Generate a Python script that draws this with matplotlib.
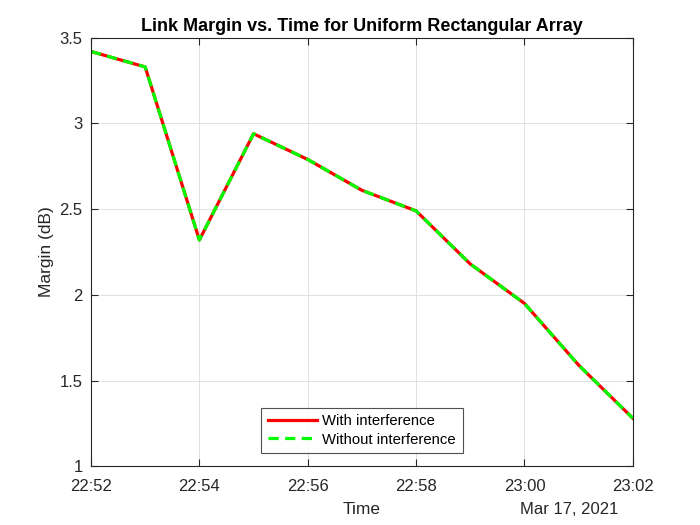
import numpy as np
import matplotlib
matplotlib.use('Agg')
import matplotlib.pyplot as plt

# datos
tiempos = ['22:52', '22:53', '22:54', '22:55', '22:56', '22:57',
           '22:58', '22:59', '23:00', '23:01', '23:02']
margen_con = [3.42, 3.33, 2.32, 2.94, 2.79, 2.61, 2.49, 2.18, 1.95, 1.59, 1.28]
margen_sin = [3.42, 3.33, 2.32, 2.94, 2.79, 2.61, 2.49, 2.18, 1.95, 1.59, 1.28]
etiquetas_x = ['22:52', '22:54', '22:56', '22:58', '23:00', '23:02']

plt.rcParams['font.family'] = ['Liberation Sans', 'DejaVu Sans']

x = np.arange(len(tiempos))

fig = plt.figure(figsize=(7, 5.25), dpi=100)
ax = fig.add_axes([0.13, 0.112, 0.774, 0.816])

ax.plot(x, margen_con, color='#ff0000', lw=2.3, label='With interference')
ax.plot(x, margen_sin, color='#00ff00', lw=2.3, ls=(0, (3.2, 2.0)), label='Without interference')

ax.set_xlim(0, len(tiempos) - 1)
ax.set_ylim(1, 3.5)
ax.set_xticks(x[::2])
ax.set_xticklabels(etiquetas_x)
ax.set_yticks([1, 1.5, 2, 2.5, 3, 3.5])
ax.set_yticklabels(['1', '1.5', '2', '2.5', '3', '3.5'])
ax.grid(True, color='#dcdcdc', lw=0.6)
ax.set_axisbelow(True)
ax.tick_params(direction='in', labelsize=12, length=5, top=True, right=True,
               labeltop=False, labelright=False, colors='#262626')
ax.tick_params(axis='x', pad=9)
ax.tick_params(axis='y', pad=6)
for s in ax.spines.values():
    s.set_color('#262626')
    s.set_linewidth(0.8)

ax.set_title('Link Margin vs. Time for Uniform Rectangular Array',
             fontsize=13, fontweight='bold', pad=5)
ax.set_ylabel('Margin (dB)', fontsize=12.5, color='#262626')
ax.set_xlabel('Time', fontsize=12.5, color='#262626')
ax.xaxis.set_label_coords(0.5, -0.1005)
ax.xaxis.label.set_va('center')
fig.text(618 / 700, 1 - 509 / 525, 'Mar 17, 2021', ha='right', va='center',
         fontsize=12, color='#262626')

leg = ax.legend(loc='lower center', bbox_to_anchor=(0.5, 0.03), fancybox=False,
                edgecolor='#262626', fontsize=10.7, handlelength=3.3,
                borderpad=0.45, labelspacing=0.3, handletextpad=0.35,
                borderaxespad=0)
leg.get_frame().set_linewidth(0.8)

fig.savefig('out.png', dpi=100)
